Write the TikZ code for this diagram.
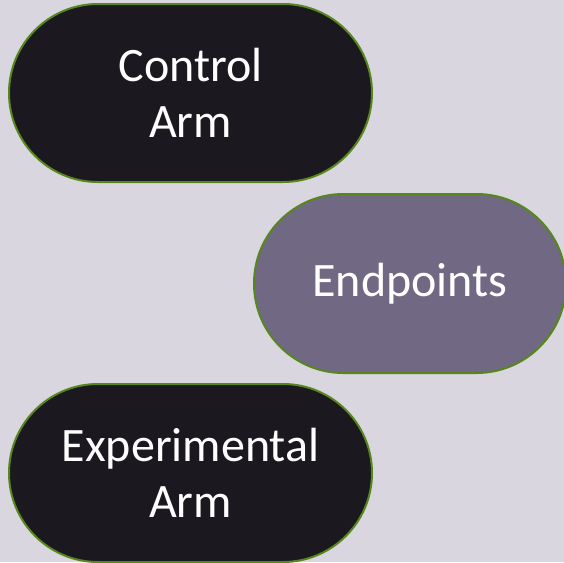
\documentclass[tikz,border=0pt]{standalone}
\usepackage{fontspec}
\setmainfont{Carlito}
\usetikzlibrary{shapes.misc}
\definecolor{bgcol}{HTML}{D9D6E0}
\definecolor{armfill}{HTML}{1B181F}
\definecolor{endfill}{HTML}{716884}
\definecolor{rimcol}{HTML}{56871C}
\tikzset{
  pill/.style={rounded rectangle, draw=rimcol, line width=2pt,
    text=white, align=center, inner sep=0pt,
    font=\fontsize{48}{56}\selectfont},
}
\begin{document}
\begin{tikzpicture}[x=1pt,y=-1pt]
  \fill[bgcol] (0,0) rectangle (564,562);
  \useasboundingbox (0,0) rectangle (564,562);
  \node[pill, fill=armfill, minimum width=363pt, minimum height=178pt]
    (control) at (190.5,93) {Control\\Arm};
  \node[pill, fill=endfill, minimum width=312pt, minimum height=179pt]
    (endpoints) at (410,283.5) {Endpoints};
  \node[pill, fill=armfill, minimum width=363pt, minimum height=178pt]
    (experimental) at (190.5,473) {Experimental\\Arm};
\end{tikzpicture}
\end{document}
